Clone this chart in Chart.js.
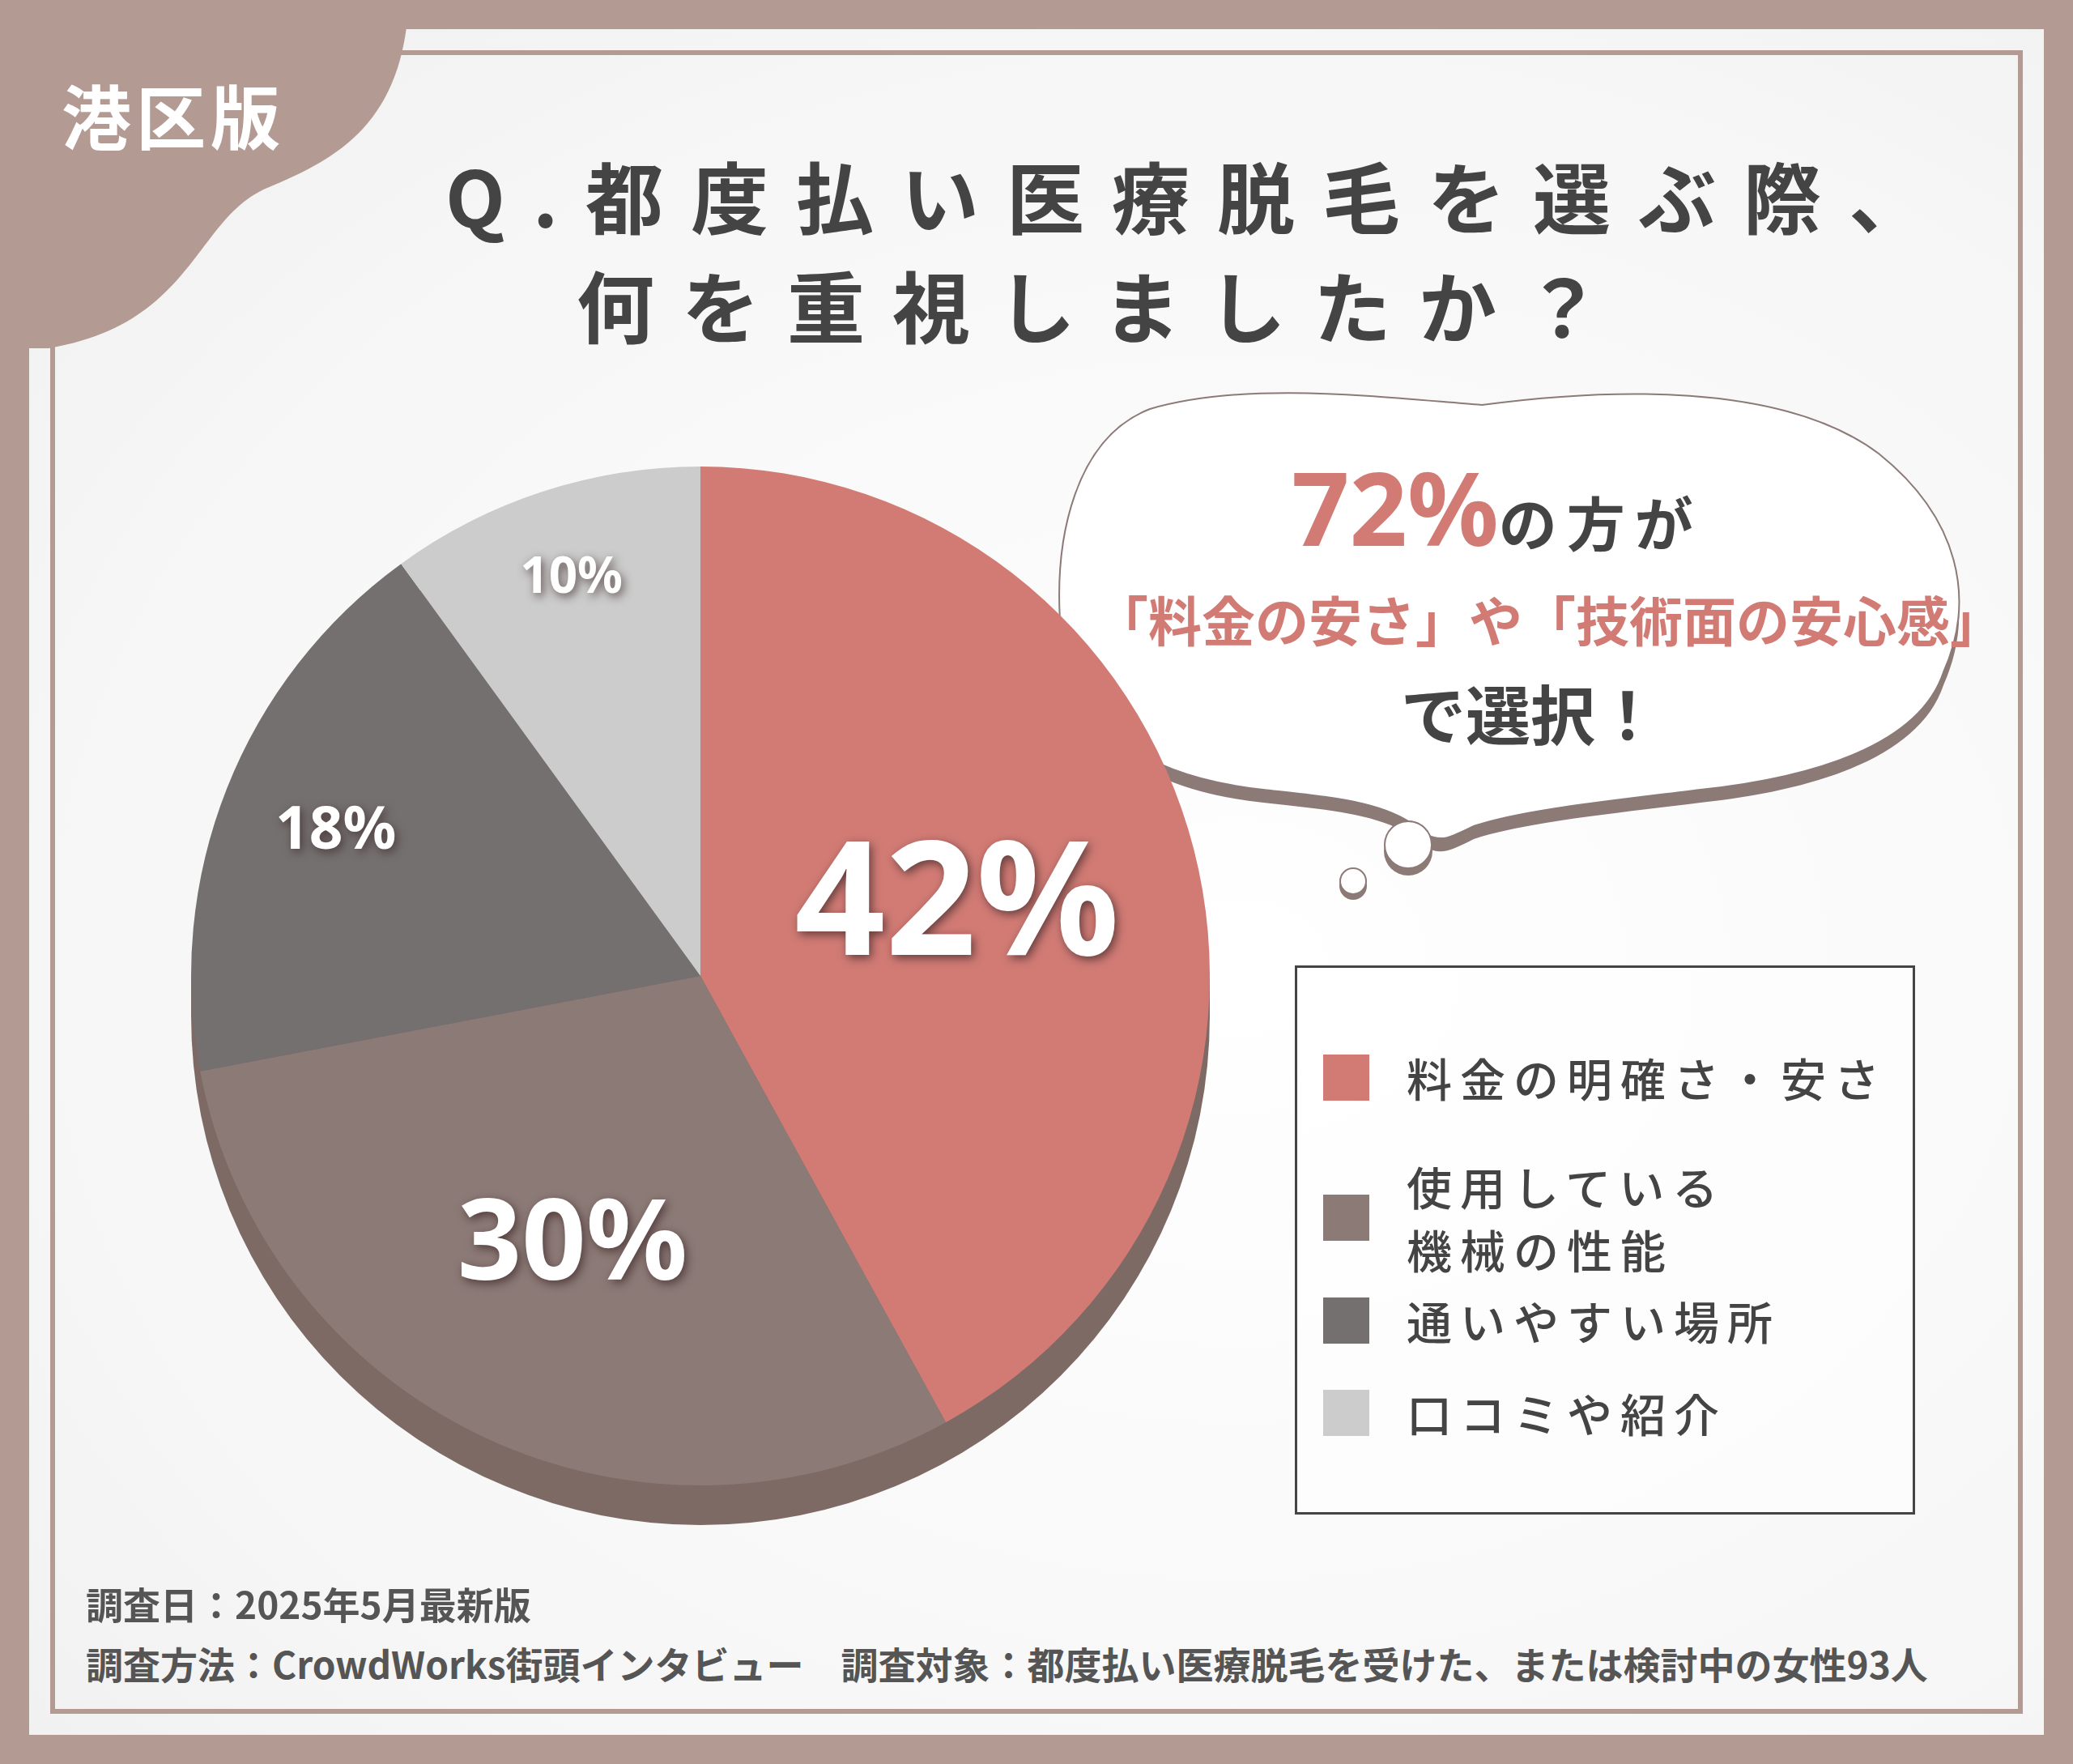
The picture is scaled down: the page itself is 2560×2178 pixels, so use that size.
<!DOCTYPE html>
<html><head><meta charset="utf-8">
<script src="https://cdn.jsdelivr.net/npm/chart.js@4"></script>
<style>
html,body{margin:0;padding:0}
body{width:2560px;height:2178px;background:#b39a92;position:relative;overflow:hidden;font-family:"Noto Sans CJK JP","Noto Sans",sans-serif}
#panel{position:absolute;left:36px;top:36px;width:2488px;height:2106px;background:radial-gradient(ellipse at 60% 55%,#ffffff 0%,#f6f6f6 70%,#efefef 100%)}
#inner{position:absolute;left:62px;top:62px;width:2436px;height:2054px;border:6px solid #b39a92;box-sizing:border-box}
.t{position:absolute;white-space:nowrap}
#chartWrap{position:absolute;left:220px;top:560px;width:1290px;height:1400px}
#legend{position:absolute;left:1599px;top:1192px;width:766px;height:678px;border:3px solid #444;box-sizing:border-box;background:rgba(255,255,255,0.5)}
.li{position:absolute;left:32px;display:flex;align-items:center;font-size:56px;color:#444;letter-spacing:10px;line-height:78px;font-weight:500}
.sw{width:57px;height:57px;margin-right:46px;flex:none}
</style></head><body>
<div id="panel"></div>
<div id="inner"></div>
<svg style="position:absolute;left:0;top:0" width="2560" height="2178">
<path d="M0,0 H505 C498,150 420,195 330,232 C240,270 240,400 60,430 L0,430 Z" fill="#b39a92"/>
<g transform="translate(0,16)">
<path d="M1420,505 C1540,470 1700,490 1830,500 C1980,480 2200,470 2320,560 C2420,640 2440,740 2400,830 C2370,920 2240,960 2100,975 C1980,990 1880,1000 1820,1020 C1790,1035 1780,1040 1760,1030 C1720,990 1650,985 1560,975 C1420,960 1320,900 1310,780 C1300,660 1330,540 1420,505 Z" fill="#8c7a77"/>
</g>
<path d="M1420,505 C1540,470 1700,490 1830,500 C1980,480 2200,470 2320,560 C2420,640 2440,740 2400,830 C2370,920 2240,960 2100,975 C1980,990 1880,1000 1820,1020 C1790,1035 1780,1040 1760,1030 C1720,990 1650,985 1560,975 C1420,960 1320,900 1310,780 C1300,660 1330,540 1420,505 Z" fill="#fff" stroke="#8c7a77" stroke-width="2"/>
<circle cx="1739" cy="1051" r="30" fill="#8c7a77"/><circle cx="1739" cy="1043" r="29" fill="#fff" stroke="#8c7a77" stroke-width="2"/>
<circle cx="1671" cy="1094" r="17" fill="#8c7a77"/><circle cx="1671" cy="1088" r="16" fill="#fff" stroke="#8c7a77" stroke-width="2"/>
</svg>
<div class="t" style="left:76px;top:78px;font-size:86px;font-weight:700;color:#fff;letter-spacing:6px">港区版</div>
<div class="t" style="left:550px;top:170px;font-size:96px;font-weight:700;color:#444;letter-spacing:34px">Q.都度払い医療脱毛を選ぶ際、</div>
<div class="t" style="left:712px;top:305px;font-size:96px;font-weight:700;color:#444;letter-spacing:34px">何を重視しましたか？</div>
<div class="t" style="left:1595px;top:540px;font-weight:700;color:#444"><span style="font-size:125px;color:#d27b75;font-family:'Noto Sans',sans-serif">72%</span><span style="font-size:72px;letter-spacing:12px">の方が</span></div>
<div class="t" style="left:1352px;top:715px;font-size:66px;font-weight:700;color:#d27b75">「料金の安さ」や「技術面の安心感」</div>
<div class="t" style="left:1730px;top:820px;font-size:80px;font-weight:700;color:#444">で選択！</div>
<div id="chartWrap"><canvas id="c"></canvas></div>
<div id="legend"></div>
<div class="t" style="left:106px;top:1946px;font-size:46px;font-weight:700;color:#555">調査日：2025年5月最新版</div>
<div class="t" style="left:106px;top:2020px;font-size:46px;font-weight:700;color:#555">調査方法：CrowdWorks街頭インタビュー　調査対象：都度払い医療脱毛を受けた、または検討中の女性93人</div>
<script>
const categories=["料金の明確さ・安さ","使用している\n機械の性能","通いやすい場所","口コミや紹介"];
const values=[42,30,18,10];
const colors=["#d27b75","#8c7a77","#757070","#cccccc"];
const labelFont=[196,139,73,62];
const labelRadius=[0.52,0.59,0.77,0.82];
const legendTop=[96,230,396,510];

const lg=document.getElementById('legend');
categories.forEach((c,i)=>{
  const d=document.createElement('div');d.className='li';d.style.top=legendTop[i]+'px';
  d.innerHTML='<div class="sw" style="background:'+colors[i]+'"></div><div>'+c.replace('\n','<br>')+'</div>';
  lg.appendChild(d);
});

const shadow={id:'shadow',beforeDatasetsDraw(ch){
  const a=ch.getDatasetMeta(0).data[0];const x=ch.ctx;
  x.save();x.fillStyle='#7d6a65';x.beginPath();x.arc(a.x,a.y+49,a.outerRadius,0,Math.PI*2);x.fill();
  x.fillRect(a.x-a.outerRadius,a.y,a.outerRadius*2,49);x.restore();
}};
const lbl={id:'lbl',afterDatasetsDraw(ch){
  const x=ch.ctx;
  ch.getDatasetMeta(0).data.forEach((a,i)=>{
    const m=(a.startAngle+a.endAngle)/2;const r=a.outerRadius*labelRadius[i];
    const px=a.x+Math.cos(m)*r, py=a.y+Math.sin(m)*r;
    x.save();x.font='bold '+labelFont[i]+'px "Noto Sans",sans-serif';x.textAlign='center';x.textBaseline='middle';
    x.shadowColor='rgba(60,40,40,0.75)';x.shadowBlur=12;x.shadowOffsetX=3;x.shadowOffsetY=4;
    x.fillStyle='#fff';x.fillText(values[i]+'%',px,py);x.restore();
  });
}};
new Chart(document.getElementById('c'),{type:'pie',
  data:{labels:categories,datasets:[{data:values,backgroundColor:colors,borderWidth:0}]},
  options:{responsive:true,maintainAspectRatio:false,animation:false,
    layout:{padding:{top:16,bottom:126,left:16,right:16}},
    plugins:{legend:{display:false},tooltip:{enabled:false}}},
  plugins:[shadow,lbl]});
</script>
</body></html>
